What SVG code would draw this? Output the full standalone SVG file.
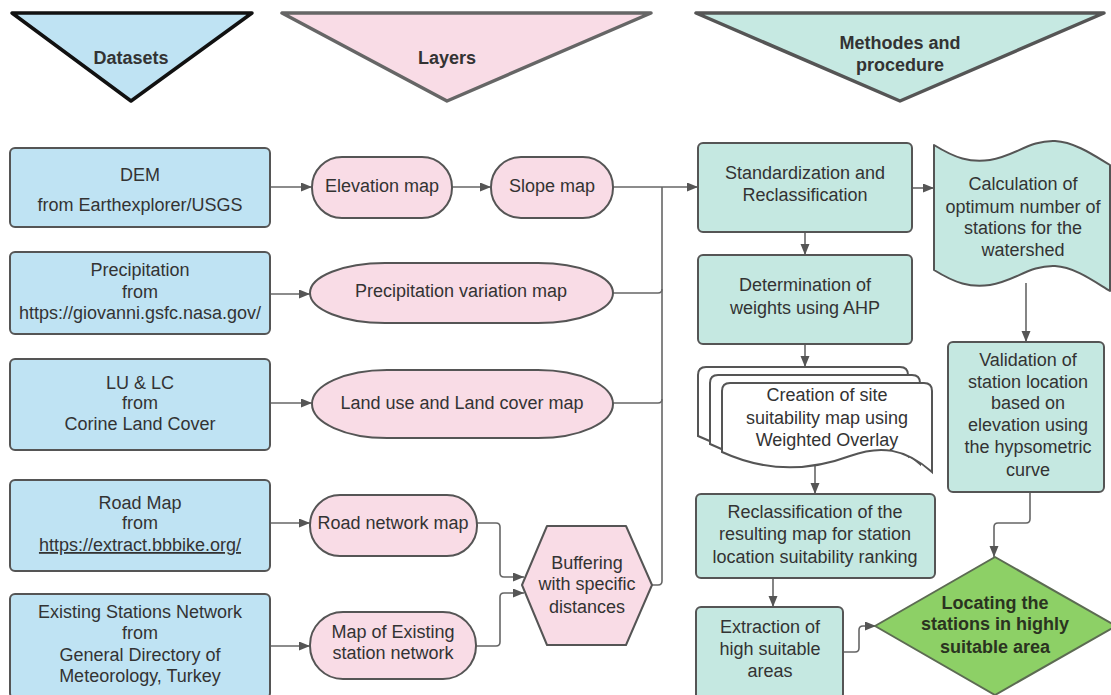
<svg xmlns="http://www.w3.org/2000/svg" width="1111" height="695" viewBox="0 0 1111 695">
<style>
  text { font-family: "Liberation Sans", Arial, sans-serif; font-size: 18px; fill: #333; text-anchor: middle; }
  .hdr { font-weight: bold; font-size: 18px; fill: #333; }
  .bold { font-weight: bold; fill: #2a3320; }
  .ds { fill: #bfe3f3; stroke: #555; stroke-width: 2; }
  .ly { fill: #f9dce6; stroke: #555; stroke-width: 2; }
  .mt { fill: #c5e8e1; stroke: #555; stroke-width: 2; }
  .doc { fill: #fff; stroke: #555; stroke-width: 2; }
  .con { fill: none; stroke: #666; stroke-width: 1.6; }
</style>
<defs>
  <marker id="arr" markerUnits="userSpaceOnUse" markerWidth="12" markerHeight="10" refX="11" refY="4.5" orient="auto">
    <path d="M0,0 L11,4.5 L0,9 Z" fill="#555"/>
  </marker>
</defs>
<rect width="1111" height="695" fill="#fff"/>

<!-- headers -->
<g id="hdr-datasets">
  <polygon points="12,13 252,13 131,101" fill="#bfe3f3" stroke="#111" stroke-width="3.5" stroke-linejoin="round"/>
  <text class="hdr" x="131" y="64">Datasets</text>
</g>
<g id="hdr-layers">
  <polygon points="282,13 651,13 447,101" fill="#f9dce6" stroke="#666" stroke-width="3.5" stroke-linejoin="round"/>
  <text class="hdr" x="447" y="64">Layers</text>
</g>
<g id="hdr-methods">
  <polygon points="696,13 1104,13 900,101" fill="#c6e9e2" stroke="#555" stroke-width="3.5" stroke-linejoin="round"/>
  <text class="hdr" x="900" y="49">Methodes and</text>
  <text class="hdr" x="900" y="71">procedure</text>
</g>

<!-- connectors -->
<g id="connectors">
  <line class="con" x1="270" y1="187" x2="312" y2="187" marker-end="url(#arr)"/>
  <line class="con" x1="452" y1="187" x2="491" y2="187" marker-end="url(#arr)"/>
  <line class="con" x1="270" y1="294" x2="310" y2="294" marker-end="url(#arr)"/>
  <line class="con" x1="270" y1="403" x2="312" y2="403" marker-end="url(#arr)"/>
  <line class="con" x1="270" y1="523" x2="310" y2="523" marker-end="url(#arr)"/>
  <line class="con" x1="270" y1="646" x2="310" y2="646" marker-end="url(#arr)"/>
  <line class="con" x1="613" y1="187" x2="698" y2="187" marker-end="url(#arr)"/>
  <path class="con" d="M662,187 V581 Q662,585 658,585 H652"/>
  <path class="con" d="M613,293 H658 Q662,293 662,289"/>
  <path class="con" d="M613,403 H658 Q662,403 662,399"/>
  <path class="con" d="M477,523 H496 Q500,523 500,527 V573 Q500,577 504,577 H524" marker-end="url(#arr)"/>
  <path class="con" d="M476,646 H496 Q500,646 500,642 V597 Q500,593 504,593 H524" marker-end="url(#arr)"/>
  <line class="con" x1="805" y1="232" x2="805" y2="255" marker-end="url(#arr)"/>
  <line class="con" x1="805" y1="344" x2="805" y2="367" marker-end="url(#arr)"/>
  <line class="con" x1="912" y1="188" x2="934" y2="188" marker-end="url(#arr)"/>
  <line class="con" x1="1026" y1="283" x2="1026" y2="342" marker-end="url(#arr)"/>
  <line class="con" x1="815" y1="465" x2="815" y2="494" marker-end="url(#arr)"/>
  <line class="con" x1="773" y1="578" x2="773" y2="607" marker-end="url(#arr)"/>
  <path class="con" d="M1030,492 V519 Q1030,523 1026,523 H998 Q994,523 994,527 V557" marker-end="url(#arr)"/>
  <path class="con" d="M843,652 H855 Q859,652 859,648 V630 Q859,626 863,626 H876" marker-end="url(#arr)"/>
</g>

<!-- datasets -->
<g id="dem">
  <rect class="ds" x="10" y="148" width="260" height="79" rx="5"/>
  <text x="140" y="181">DEM</text>
  <text x="140" y="211">from Earthexplorer/USGS</text>
</g>
<g id="precip">
  <rect class="ds" x="10" y="252" width="260" height="82" rx="5"/>
  <text x="140" y="276">Precipitation</text>
  <text x="140" y="298">from</text>
  <text x="140" y="319">https://giovanni.gsfc.nasa.gov/</text>
</g>
<g id="lulc">
  <rect class="ds" x="10" y="359" width="260" height="91" rx="5"/>
  <text x="140" y="389">LU &amp; LC</text>
  <text x="140" y="409">from</text>
  <text x="140" y="430">Corine Land Cover</text>
</g>
<g id="road">
  <rect class="ds" x="10" y="480" width="260" height="91" rx="5"/>
  <text x="140" y="509">Road Map</text>
  <text x="140" y="529">from</text>
  <text x="140" y="551" text-decoration="underline">https://extract.bbbike.org/</text>
</g>
<g id="stations">
  <rect class="ds" x="10" y="594" width="260" height="104" rx="5"/>
  <text x="140" y="618">Existing Stations Network</text>
  <text x="140" y="639">from</text>
  <text x="140" y="661">General Directory of</text>
  <text x="140" y="682">Meteorology, Turkey</text>
</g>

<!-- layers -->
<g id="elevation">
  <rect class="ly" x="312" y="157" width="140" height="61" rx="30"/>
  <text x="382" y="192">Elevation map</text>
</g>
<g id="slope">
  <rect class="ly" x="491" y="157" width="122" height="61" rx="30"/>
  <text x="552" y="192">Slope map</text>
</g>
<g id="precipmap">
  <rect class="ly" x="310" y="263" width="303" height="60" rx="75" ry="30"/>
  <text x="461" y="297">Precipitation variation map</text>
</g>
<g id="landuse">
  <rect class="ly" x="312" y="370" width="301" height="68" rx="75" ry="34"/>
  <text x="462" y="409">Land use and Land cover map</text>
</g>
<g id="roadmap">
  <rect class="ly" x="310" y="495" width="167" height="61" rx="30"/>
  <text x="393" y="529">Road network map</text>
</g>
<g id="stationmap">
  <rect class="ly" x="310" y="612" width="166" height="67" rx="33"/>
  <text x="393" y="638">Map of Existing</text>
  <text x="393" y="659">station network</text>
</g>
<g id="buffering">
  <polygon class="ly" points="522,585 547,526 626,526 652,585 626,645 547,645" stroke-linejoin="round"/>
  <text x="587" y="569">Buffering</text>
  <text x="587" y="590">with specific</text>
  <text x="587" y="613">distances</text>
</g>

<!-- methods -->
<g id="standardization">
  <rect class="mt" x="698" y="143" width="214" height="89" rx="5"/>
  <text x="805" y="179">Standardization and</text>
  <text x="805" y="201">Reclassification</text>
</g>
<g id="weights">
  <rect class="mt" x="698" y="255" width="214" height="89" rx="5"/>
  <text x="805" y="291">Determination of</text>
  <text x="805" y="314">weights using AHP</text>
</g>
<g id="calculation">
  <path class="mt" d="M934,145 C955,158 970,163 990,160 C1015,156 1030,140 1055,141 C1075,142 1095,156 1110,165 V291 C1095,282 1075,267 1055,266 C1030,265 1015,281 990,285 C970,288 955,283 934,270 Z" stroke-linejoin="round"/>
  <text x="1023" y="190">Calculation of</text>
  <text x="1023" y="213">optimum number of</text>
  <text x="1023" y="234">stations for the</text>
  <text x="1023" y="256">watershed</text>
</g>
<g id="suitability">
  <path class="doc" d="M698,375 Q698,367 706,367 H900 Q908,367 908,375 V456 C881,432 856,439 826,449 C791,459 746,459 698,436 Z"/>
  <path class="doc" d="M710,383 Q710,375 718,375 H912 Q920,375 920,383 V464 C893,440 868,447 838,457 C803,467 758,467 710,444 Z"/>
  <path class="doc" d="M722,391 Q722,383 730,383 H924 Q932,383 932,391 V472 C905,448 880,445 850,456 C815,469 770,474 722,452 Z"/>
  <text x="827" y="401">Creation of site</text>
  <text x="827" y="424">suitability map using</text>
  <text x="827" y="446">Weighted Overlay</text>
</g>
<g id="validation">
  <rect class="mt" x="948" y="342" width="156" height="150" rx="5"/>
  <text x="1028" y="366">Validation of</text>
  <text x="1028" y="388">station location</text>
  <text x="1028" y="409">based on</text>
  <text x="1028" y="431">elevation using</text>
  <text x="1028" y="453">the hypsometric</text>
  <text x="1028" y="476">curve</text>
</g>
<g id="reclass">
  <rect class="mt" x="696" y="494" width="239" height="84" rx="5"/>
  <text x="815" y="518">Reclassification of the</text>
  <text x="815" y="540">resulting map for station</text>
  <text x="815" y="563">location suitability ranking</text>
</g>
<g id="extraction">
  <rect class="mt" x="696" y="607" width="147" height="92" rx="5"/>
  <text x="770" y="633">Extraction of</text>
  <text x="770" y="655">high suitable</text>
  <text x="770" y="677">areas</text>
</g>
<g id="locating">
  <polygon points="995,557 1116,626 995,695 875,626" fill="#8dd066" stroke="#5c6b52" stroke-width="2" stroke-linejoin="round"/>
  <text class="bold" x="995" y="609">Locating the</text>
  <text class="bold" x="995" y="630">stations in highly</text>
  <text class="bold" x="995" y="653">suitable area</text>
</g>
</svg>
